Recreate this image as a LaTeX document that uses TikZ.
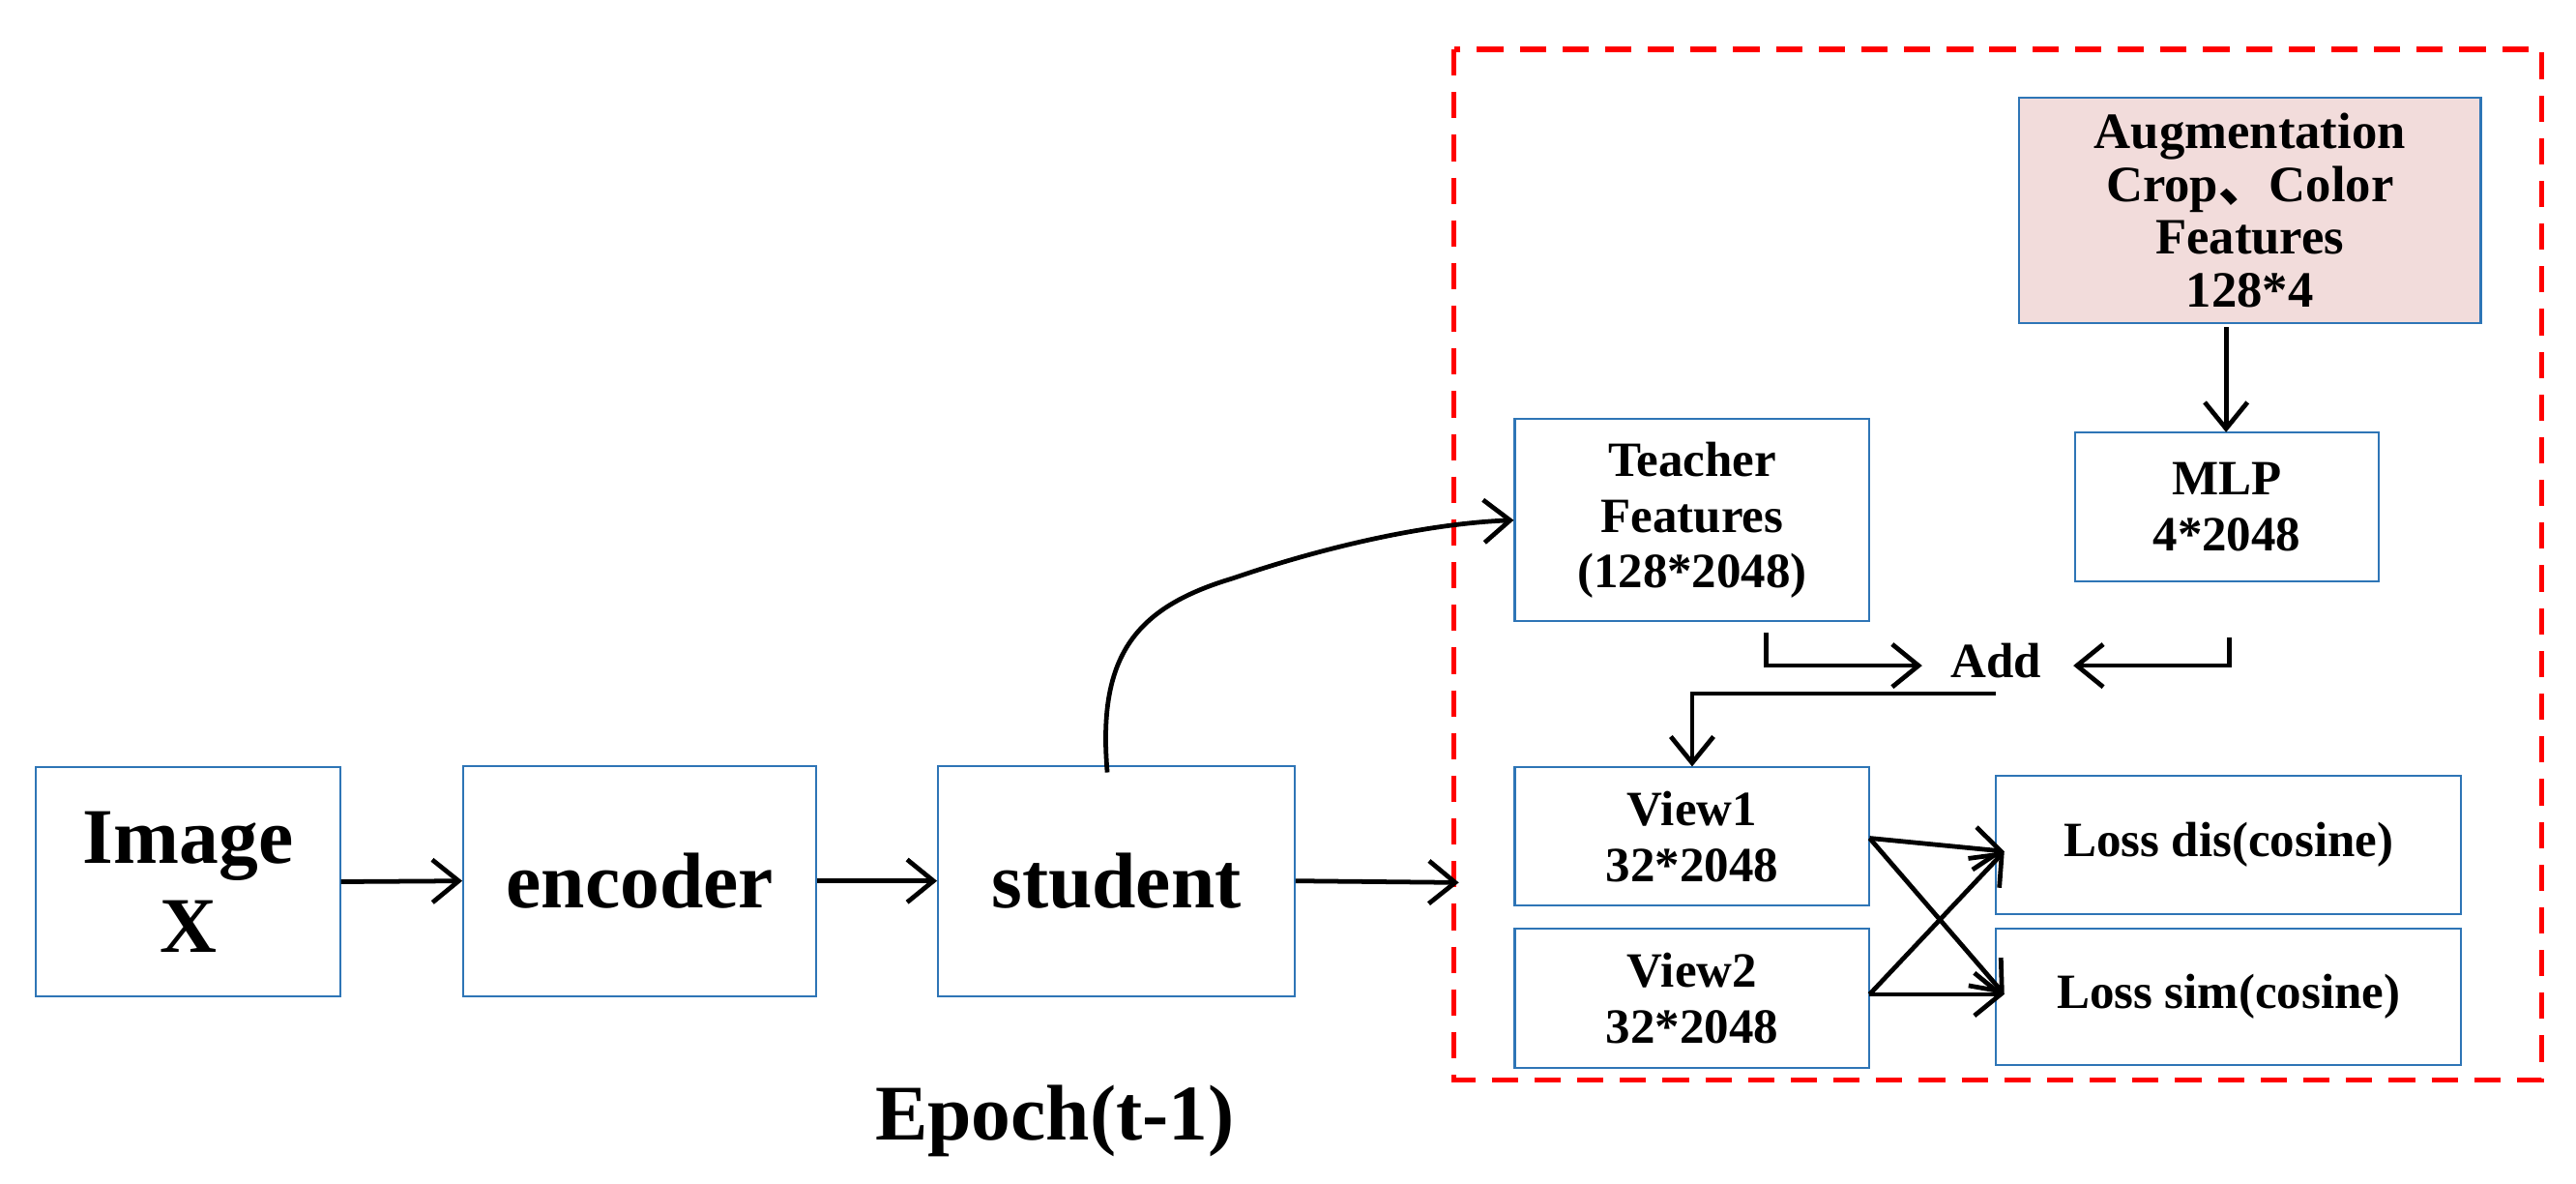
\documentclass[tikz,border=0pt]{standalone}
\usepackage{fontspec}
\setmainfont{Liberation Serif}
\newfontfamily\cjk{Noto Sans CJK SC}
\usetikzlibrary{arrows.meta}
\definecolor{bx}{RGB}{46,117,182}
\definecolor{pink}{RGB}{242,220,219}
\begin{document}
\begin{tikzpicture}[x=0.5pt,y=-0.5pt,
  box/.style={draw=bx,line width=0.6pt,font=\bfseries,align=center,inner sep=0},
  sm/.style={font=\bfseries\fontsize{15}{17}\selectfont},
  arr/.style={line width=1.4pt,-{Straight Barb[length=8pt,width=13pt,line width=1.4pt]}},
  ln/.style={line width=1.4pt}]
\useasboundingbox (0,0) rectangle (1568,720);
\draw[red,line width=1.6pt,dash pattern=on 8pt off 5pt] (885,30) rectangle (1547,657);
\node[box,minimum width=92.5pt,minimum height=69.5pt,font=\bfseries\fontsize{24}{27}\selectfont] (img) at (114.5,536.5) {Image\\X};
\node[box,minimum width=107.5pt,minimum height=70pt,font=\bfseries\fontsize{24}{27}\selectfont] (enc) at (389.5,536) {encoder};
\node[box,minimum width=108.5pt,minimum height=70pt,font=\bfseries\fontsize{24}{27}\selectfont] (stu) at (679.5,536) {student};
\node[font=\bfseries\fontsize{24}{27}\selectfont] (ep) at (642,682) {Epoch(t-1)};
\node[box,fill=pink,minimum width=140.5pt,minimum height=68.5pt,font=\bfseries\fontsize{15.5}{16}\selectfont] (aug) at (1369.5,128) {Augmentation\\Crop{\cjk 、}Color\\Features\\128*4};
\node[box,sm,minimum width=92.5pt,minimum height=45.5pt] (mlp) at (1355.5,308.5) {MLP\\4*2048};
\node[box,sm,minimum width=108pt,minimum height=61.5pt] (tea) at (1030,316.5) {Teacher\\Features\\(128*2048)};
\node[sm] (add) at (1215,402) {Add};
\node[box,sm,minimum width=108pt,minimum height=42pt] (v1) at (1030,509) {View1\\32*2048};
\node[box,sm,minimum width=108pt,minimum height=42.5pt] (v2) at (1030,607.5) {View2\\32*2048};
\node[box,sm,minimum width=141.5pt,minimum height=42pt] (ld) at (1356.5,514) {Loss dis(cosine)};
\node[box,sm,minimum width=141.5pt,minimum height=41.5pt] (ls) at (1356.5,606.5) {Loss sim(cosine)};
\coordinate (sout) at (888,537);
\coordinate (addl) at (1170,405);
\coordinate (addr) at (1262,405);
\draw[arr] (img.east) -- (enc.west);
\draw[arr] (enc.east) -- (stu.west);
\draw[arr] (stu.east) -- (sout);
\draw[arr] (674,470) .. controls (668,400) and (690,370) .. (750,352) .. controls (820,328) and (880,318) .. (tea.west);
\draw[arr] (1355,199) -- (1355,263);
\draw[arr] (1075,385) -- (1075,405) -- (addl);
\draw[arr] (1357,388) -- (1357,405) -- (addr);
\draw[arr] (1215,422) -- (1030,422) -- (v1.north);
\draw[arr] (1138,510) -- (1220,518);
\draw[arr] (1138,510) -- (1220,605);
\draw[arr] (1138,605) -- (1220,518);
\draw[arr] (1138,605) -- (1220,605);
\end{tikzpicture}
\end{document}
